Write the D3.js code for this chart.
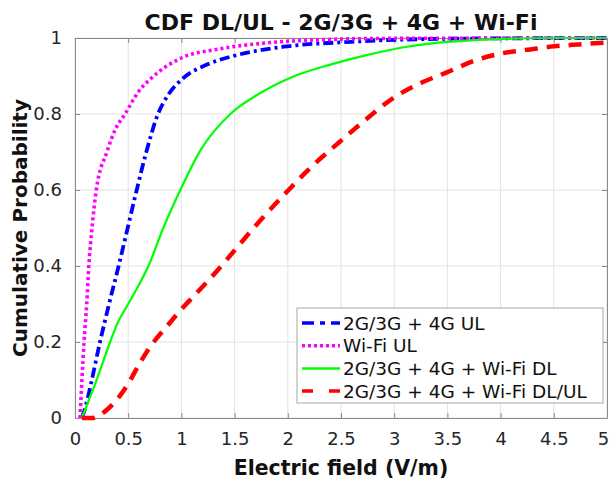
<!DOCTYPE html>
<html><head><meta charset="utf-8">
<script src="https://cdn.jsdelivr.net/npm/d3@7"></script>
<style>body{margin:0;background:#fff}svg{display:block}</style>
</head><body><svg id="c" width="610" height="479"></svg>
<script>
const xTicks = [0,0.5,1,1.5,2,2.5,3,3.5,4,4.5,5];
const yTicks = [0,0.2,0.4,0.6,0.8,1];
const seriesNames = ["2G/3G + 4G UL","Wi-Fi UL","2G/3G + 4G + Wi-Fi DL","2G/3G + 4G + Wi-Fi DL/UL"];
const blueUL = [[0.065,0],[0.1,0.03],[0.15,0.09],[0.235,0.2],[0.32,0.3],[0.41,0.4],[0.495,0.5],[0.58,0.6],[0.67,0.7],[0.78,0.8],[0.875,0.85],[1.02,0.895],[1.24,0.93],[1.52,0.955],[1.96,0.977],[2.6,0.99],[3.5,0.998],[5,1]];
const wifiUL = [[0.047,0],[0.065,0.1],[0.085,0.2],[0.11,0.3],[0.13,0.4],[0.16,0.5],[0.2,0.6],[0.3,0.7],[0.38,0.76],[0.47,0.8],[0.6,0.86],[0.72,0.895],[1.02,0.95],[1.33,0.97],[1.8,0.987],[2.27,0.995],[3,0.999],[5,1]];
const allDL = [[0.065,0],[0.12,0.04],[0.19,0.09],[0.33,0.2],[0.4,0.25],[0.5,0.3],[0.6,0.35],[0.69,0.4],[0.83,0.5],[0.99,0.6],[1.18,0.705],[1.46,0.8],[1.71,0.85],[2.02,0.895],[2.4,0.93],[2.74,0.955],[3.12,0.977],[3.5,0.99],[4.5,1],[5,1]];
const allDLUL = [[0.065,0],[0.16,0],[0.27,0.015],[0.39,0.047],[0.5,0.09],[0.61,0.145],[0.74,0.2],[0.86,0.24],[0.98,0.28],[1.13,0.325],[1.27,0.367],[1.43,0.418],[1.55,0.458],[1.71,0.51],[1.99,0.595],[2.21,0.658],[2.46,0.72],[2.71,0.78],[2.99,0.842],[3.27,0.884],[3.5,0.91],[3.75,0.94],[4.02,0.96],[4.28,0.97],[4.5,0.978],[4.73,0.983],[5,0.988]];

const svg = d3.select("#c");
const L=75,R=607,T=38,B=418;
const x = d3.scaleLinear().domain([0,5]).range([L,R]);
const y = d3.scaleLinear().domain([0,1]).range([B,T]);
const FONT = "'DejaVu Sans', sans-serif";
const txt = "#262626";

// grid
const g = svg.append("g");
g.selectAll(".gx").data(xTicks).join("line")
  .attr("x1",d=>x(d)).attr("x2",d=>x(d)).attr("y1",T).attr("y2",B)
  .attr("stroke","#e3e3e3").attr("stroke-width",1);
g.selectAll(".gy").data(yTicks).join("line")
  .attr("y1",d=>y(d)).attr("y2",d=>y(d)).attr("x1",L).attr("x2",R)
  .attr("stroke","#e3e3e3").attr("stroke-width",1);

// axes with inward ticks
const fmt = d=>String(d);
const axB = svg.append("g").attr("transform",`translate(0,${B})`)
  .call(d3.axisBottom(x).tickValues(xTicks).tickFormat(fmt).tickSizeInner(-5).tickSizeOuter(0).tickPadding(14));
const axL = svg.append("g").attr("transform",`translate(${L},0)`)
  .call(d3.axisLeft(y).tickValues(yTicks).tickFormat(fmt).tickSizeInner(-5).tickSizeOuter(0).tickPadding(13));
const axT = svg.append("g").attr("transform",`translate(0,${T})`)
  .call(d3.axisTop(x).tickValues(xTicks).tickFormat("").tickSizeInner(-5).tickSizeOuter(0));
const axR = svg.append("g").attr("transform",`translate(${R},0)`)
  .call(d3.axisRight(y).tickValues(yTicks).tickFormat("").tickSizeInner(-5).tickSizeOuter(0));
[axB,axL,axT,axR].forEach(a=>{
  a.select(".domain").attr("stroke","#8a8a8a");
  a.selectAll(".tick line").attr("stroke","#8a8a8a");
  a.selectAll(".tick text").attr("fill",txt).style("font-family",FONT).style("font-size","18px");
});
axB.selectAll(".tick text").attr("dy","0.71em");
// keep the last x tick label inside the window
axB.selectAll(".tick text").filter(d=>d===5).attr("x",-4);

// lines
const line = d3.line().x(d=>x(d[0])).y(d=>y(d[1])).curve(d3.curveMonotoneX);
const styles = [
  {data:blueUL, color:"#0000ff", w:3.8, dash:"10,4,3,4"},
  {data:wifiUL, color:"#ff00ff", w:3.6, dash:"3,3"},
  {data:allDL, color:"#00ff00", w:2.2, dash:null},
  {data:allDLUL, color:"#ff0000", w:4.5, dash:"13,9"}
];
styles.forEach(s=>{
  svg.append("path").datum(s.data).attr("d",line)
    .attr("fill","none").attr("stroke",s.color).attr("stroke-width",s.w)
    .attr("stroke-dasharray",s.dash);
});

// legend
const lg = svg.append("g");
lg.append("rect").attr("x",297).attr("y",308).attr("width",306).attr("height",95)
  .attr("fill","#fff").attr("stroke","#a6a6a6").attr("stroke-width",1);
const legDash = ["12,6,5,6","3,3",null,"11,16"];
styles.forEach((s,i)=>{
  const yy = 323 + i*22.7;
  lg.append("line").attr("x1",302).attr("x2",340).attr("y1",yy).attr("y2",yy)
    .attr("stroke",s.color).attr("stroke-width",s.w>3?3.5:2.5).attr("stroke-dasharray",legDash[i]);
  lg.append("text").attr("x",343).attr("y",yy).attr("dy","0.36em")
    .style("font-family",FONT).style("font-size","18.5px").attr("fill","#111").text(seriesNames[i]);
});

// title & labels
svg.append("text").attr("x",(L+R)/2).attr("y",30).attr("text-anchor","middle")
  .style("font-family",FONT).style("font-size","22px").style("font-weight","bold").attr("fill","#111")
  .text("CDF DL/UL - 2G/3G + 4G + Wi-Fi");
svg.append("text").attr("x",(L+R)/2).attr("y",475).attr("text-anchor","middle")
  .style("font-family",FONT).style("font-size","20.5px").style("font-weight","bold").attr("fill","#111")
  .text("Electric field (V/m)");
svg.append("text").attr("transform",`translate(27,${(T+B)/2}) rotate(-90)`).attr("text-anchor","middle")
  .style("font-family",FONT).style("font-size","20px").style("font-weight","bold").attr("fill","#111")
  .text("Cumulative Probability");
</script></body></html>
